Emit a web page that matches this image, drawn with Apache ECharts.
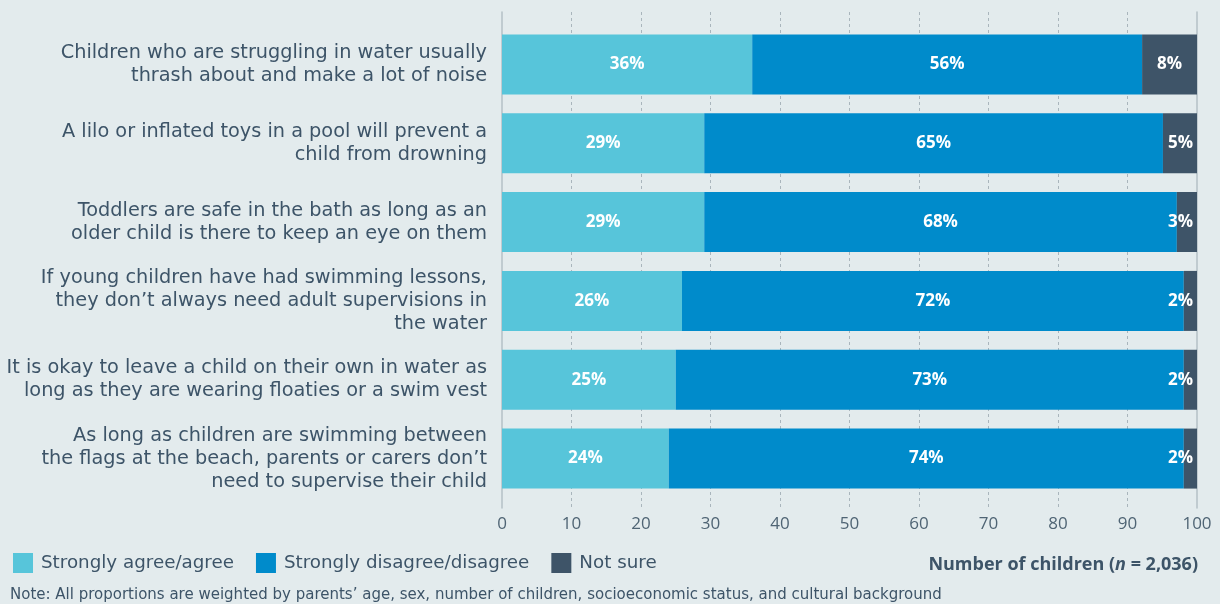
<!DOCTYPE html>
<html>
<head>
<meta charset="utf-8">
<script src="https://cdn.jsdelivr.net/npm/echarts@6/dist/echarts.min.js"></script>
<style>
html, body { margin: 0; padding: 0; background: #e3ebed; }
#main { width: 1220px; height: 604px; }
</style>
</head>
<body>
<div id="main"></div>
<script>
// statements, top to bottom
var statements = [
    'Children who are struggling in water usually\nthrash about and make a lot of noise',
    'A lilo or inflated toys in a pool will prevent a\nchild from drowning',
    'Toddlers are safe in the bath as long as an\nolder child is there to keep an eye on them',
    'If young children have had swimming lessons,\nthey don\u2019t always need adult supervisions in\nthe water',
    'It is okay to leave a child on their own in water as\nlong as they are wearing floaties or a swim vest',
    'As long as children are swimming between\nthe flags at the beach, parents or carers don\u2019t\nneed to supervise their child'
];

// bar lengths
var agreeData = [36, 29.1, 29.1, 25.9, 25, 24];
var disagreeData = [56.1, 66, 68, 72.2, 73.1, 74.1];
var notSureData = [7.9, 4.9, 2.9, 1.9, 1.9, 1.9];

// printed labels
var agreeLabels = [36, 29, 29, 26, 25, 24];
var disagreeLabels = [56, 65, 68, 72, 73, 74];
var notSureLabels = [8, 5, 3, 2, 2, 2];

var textColor = '#3d5468';
var fontName = 'Open Sans';
var wideFont = 'DejaVu Sans';

function makeItems(vals, labels, small) {
    return vals.map(function (v, i) {
        var item = { value: v, txt: labels[i] + '%' };
        if (small && v < 6) {
            item.label = { position: 'insideRight', distance: 4 };
        }
        return item;
    });
}

var barLabel = {
    show: true,
    position: 'inside',
    color: '#fff',
    fontFamily: fontName,
    fontWeight: 'bold',
    fontSize: 17,
    formatter: function (p) { return p.data.txt; }
};

var myChart = echarts.init(document.getElementById('main'));

var option = {
    backgroundColor: '#e3ebed',
    animation: false,
    color: ['#57c5da', '#008bcb', '#3e5468'],
    legend: {
        left: 13,
        top: 553,
        padding: 0,
        icon: 'rect',
        itemWidth: 20,
        itemHeight: 20,
        itemGap: 22,
        textStyle: { color: textColor, fontFamily: wideFont, fontSize: 18.3, padding: [0, 0, 0, 3] },
        data: ['Strongly agree/agree', 'Strongly disagree/disagree', 'Not sure']
    },
    grid: [{
        // frame with gridlines
        left: 502, right: 23, top: 12, bottom: 96,
        outerBoundsMode: 'none'
    }, {
        // bars
        left: 502, right: 23, top: 25, bottom: 106,
        outerBoundsMode: 'none'
    }],
    xAxis: [{
        gridIndex: 0,
        type: 'value',
        min: 0,
        max: 100,
        interval: 10,
        axisLine: { show: false },
        axisTick: { show: false },
        axisLabel: { color: '#4f6474', fontFamily: fontName, fontSize: 17, margin: 8 },
        splitLine: {
            show: true,
            showMinLine: false,
            showMaxLine: false,
            lineStyle: { color: '#a9b5bc', type: [3, 3], width: 1 }
        }
    }, {
        gridIndex: 1,
        type: 'value',
        min: 0,
        max: 100,
        show: false
    }],
    yAxis: [{
        gridIndex: 0,
        type: 'value',
        position: 'left',
        axisLine: { show: true, lineStyle: { color: '#b5c0c6', width: 1.5 } },
        axisTick: { show: false },
        axisLabel: { show: false },
        splitLine: { show: false }
    }, {
        gridIndex: 0,
        type: 'value',
        position: 'right',
        axisLine: { show: true, lineStyle: { color: '#b5c0c6', width: 1.5 } },
        axisTick: { show: false },
        axisLabel: { show: false },
        splitLine: { show: false }
    }, {
        gridIndex: 1,
        type: 'category',
        inverse: true,
        data: statements,
        axisLine: { show: false },
        axisTick: { show: false },
        axisLabel: {
            color: textColor,
            fontFamily: wideFont,
            fontSize: 19.3,
            lineHeight: 23,
            margin: 15,
            align: 'right'
        }
    }],
    graphic: [{
        type: 'text',
        x: 1198,
        y: 565,
        style: {
            text: '{b|Number of children (}{i|n}{b| = 2,036)}',
            align: 'right',
            verticalAlign: 'middle',
            rich: {
                b: { fontFamily: fontName, fontWeight: 'bold', fontSize: 18, fill: textColor },
                i: { fontFamily: fontName, fontWeight: 'bold', fontStyle: 'italic', fontSize: 18, fill: textColor }
            }
        }
    }, {
        type: 'text',
        x: 10,
        y: 595,
        style: {
            text: 'Note: All proportions are weighted by parents\u2019 age, sex, number of children, socioeconomic status, and cultural background',
            fontFamily: wideFont,
            fontSize: 15,
            fill: textColor,
            verticalAlign: 'middle'
        }
    }],
    series: [{
        name: 'Strongly agree/agree',
        type: 'bar',
        stack: 'all',
        xAxisIndex: 1,
        yAxisIndex: 2,
        barWidth: 60,
        label: barLabel,
        data: makeItems(agreeData, agreeLabels, false)
    }, {
        name: 'Strongly disagree/disagree',
        type: 'bar',
        stack: 'all',
        xAxisIndex: 1,
        yAxisIndex: 2,
        barWidth: 60,
        label: barLabel,
        data: makeItems(disagreeData, disagreeLabels, false)
    }, {
        name: 'Not sure',
        type: 'bar',
        stack: 'all',
        xAxisIndex: 1,
        yAxisIndex: 2,
        barWidth: 60,
        label: barLabel,
        data: makeItems(notSureData, notSureLabels, true)
    }]
};

myChart.setOption(option);
</script>
</body>
</html>
